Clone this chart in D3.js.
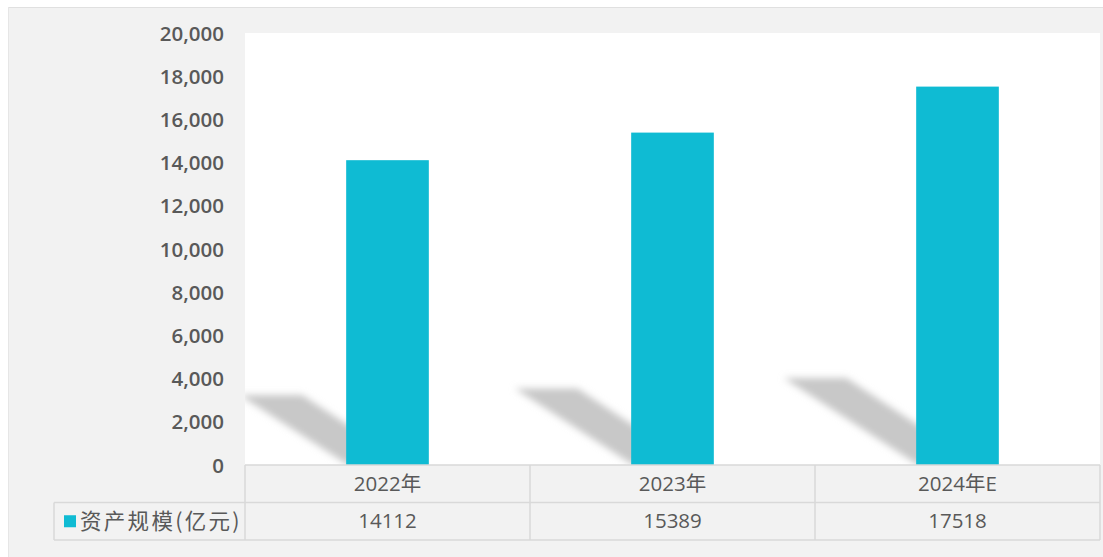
<!DOCTYPE html>
<html>
<head>
<meta charset="utf-8">
<script src="https://cdn.jsdelivr.net/npm/d3@7"></script>
<style>
  body { margin: 0; background: #fff; }
  svg { display: block; font-family: "Open Sans", "Noto Sans CJK SC", sans-serif; }
</style>
</head>
<body>
<div id="chart"></div>
<script>
// chart data
var categories = ["2022年", "2023年", "2024年E"];
var assetValues = [14112, 15389, 17518];
var seriesName = "资产规模(亿元)";
var yTicks = [0, 2000, 4000, 6000, 8000, 10000, 12000, 14000, 16000, 18000, 20000];

var width = 1103, height = 557;
var plot = { left: 245, right: 1100, top: 33, bottom: 465 };
var rowH = 37.5;
var barColor = "#0fbbd3";
var textColor = "#595959";
var lineColor = "#d9d9d9";

var svg = d3.select("#chart").append("svg")
    .attr("width", width)
    .attr("height", height);

// gray panel
svg.append("rect")
    .attr("x", 8).attr("y", 7)
    .attr("width", width - 8).attr("height", height - 7)
    .attr("fill", "#f2f2f2");
svg.append("line")
    .attr("x1", 8).attr("x2", width)
    .attr("y1", 7.5).attr("y2", 7.5)
    .attr("stroke", "#e0e0e0");
svg.append("line")
    .attr("x1", 8.5).attr("x2", 8.5)
    .attr("y1", 7).attr("y2", height)
    .attr("stroke", "#e6e6e6");

// plot area
svg.append("rect")
    .attr("x", plot.left).attr("y", plot.top)
    .attr("width", plot.right - plot.left).attr("height", plot.bottom - plot.top)
    .attr("fill", "#fff");

var x = d3.scaleBand()
    .domain(categories)
    .range([plot.left, plot.right])
    .paddingInner(0).paddingOuter(0);

var y = d3.scaleLinear()
    .domain([0, 20000])
    .range([plot.bottom, plot.top]);

var barW = x.bandwidth() * 0.29;

// shadows
var defs = svg.append("defs");
defs.append("filter").attr("id", "blur")
    .attr("x", "-20%").attr("y", "-20%").attr("width", "140%").attr("height", "140%")
  .append("feGaussianBlur").attr("stdDeviation", 3.5);
defs.append("clipPath").attr("id", "plotclip")
  .append("rect")
    .attr("x", plot.left).attr("y", plot.top)
    .attr("width", plot.right - plot.left).attr("height", plot.bottom - plot.top);

var data = categories.map((c, i) => ({ cat: c, value: assetValues[i] }));

svg.append("g")
    .attr("clip-path", "url(#plotclip)")
  .append("g")
    .attr("filter", "url(#blur)")
  .selectAll("path")
  .data(data)
  .join("path")
    .attr("fill", "#c8c8c8")
    .attr("d", d => {
      var x0 = x(d.cat) + (x.bandwidth() - barW) / 2;
      var x1 = x0 + barW;
      var h = y(0) - y(d.value);
      var dx = h * 0.35, dy = h * 0.23;
      return `M${x0 + 2},${y(0)} L${x1 - 20},${y(0)} L${x1 - dx - 20},${y(0) - dy} L${x0 - dx},${y(0) - dy} Z`;
    });

// bars
svg.append("g")
  .selectAll("rect")
  .data(data)
  .join("rect")
    .attr("x", d => x(d.cat) + (x.bandwidth() - barW) / 2)
    .attr("y", d => y(d.value))
    .attr("width", barW)
    .attr("height", d => y(0) - y(d.value))
    .attr("fill", barColor);

// y axis labels
svg.append("g")
    .attr("transform", `translate(${plot.left - 18},0)`)
    .call(d3.axisLeft(y).tickValues(yTicks).tickSize(0).tickFormat(d3.format(",")))
    .call(g => g.select(".domain").remove())
    .call(g => g.selectAll("text")
        .attr("fill", textColor)
        .attr("font-size", 20.5)
        .attr("font-weight", 600)
        .attr("font-family", "'Open Sans', sans-serif")
        .attr("dy", "0.35em"));

// data table
var t0 = plot.bottom, t1 = t0 + rowH, t2 = t1 + rowH;
var tbl = svg.append("g")
    .attr("fill", "none")
    .attr("stroke", lineColor)
    .attr("stroke-width", 1.5);
tbl.append("line").attr("x1", plot.left).attr("x2", plot.right).attr("y1", t0).attr("y2", t0);
tbl.append("line").attr("x1", 54).attr("x2", plot.right).attr("y1", t1).attr("y2", t1);
tbl.append("line").attr("x1", 54).attr("x2", plot.right).attr("y1", t2).attr("y2", t2);
tbl.append("line").attr("x1", 54).attr("x2", 54).attr("y1", t1).attr("y2", t2);
tbl.selectAll(".v")
  .data(categories.map(c => x(c)).concat([plot.right]))
  .join("line")
    .attr("x1", d => d).attr("x2", d => d)
    .attr("y1", t0).attr("y2", t2);

svg.append("g")
  .selectAll("text")
  .data(categories)
  .join("text")
    .attr("x", d => x(d) + x.bandwidth() / 2)
    .attr("y", (t0 + t1) / 2)
    .attr("dy", "0.35em")
    .attr("text-anchor", "middle")
    .attr("fill", textColor)
    .attr("font-size", 20.5)
    .text(d => d);

svg.append("g")
  .selectAll("text")
  .data(data)
  .join("text")
    .attr("x", d => x(d.cat) + x.bandwidth() / 2)
    .attr("y", (t1 + t2) / 2)
    .attr("dy", "0.35em")
    .attr("text-anchor", "middle")
    .attr("fill", textColor)
    .attr("font-size", 20.5)
    .text(d => d.value);

// series label with legend key
svg.append("rect")
    .attr("x", 64).attr("y", (t1 + t2) / 2 - 6)
    .attr("width", 12).attr("height", 12)
    .attr("fill", barColor);
svg.append("text")
    .attr("x", 80)
    .attr("y", (t1 + t2) / 2)
    .attr("dy", "0.35em")
    .attr("fill", textColor)
    .attr("font-size", 21.5)
    .attr("letter-spacing", 2.3)
    .attr("font-family", "'Noto Sans CJK SC', sans-serif")
    .text(seriesName);
</script>
</body>
</html>
